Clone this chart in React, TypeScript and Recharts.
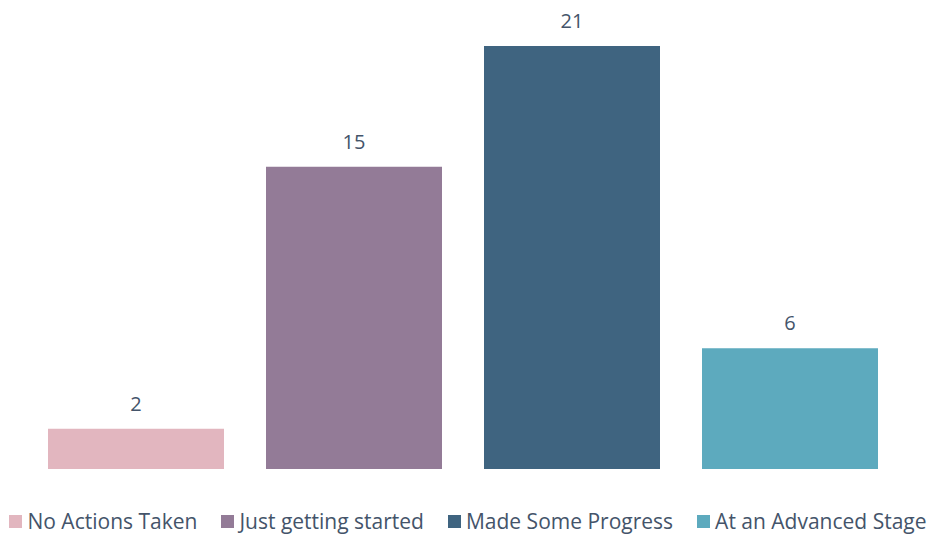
import { BarChart, Bar, XAxis, YAxis, Cell, LabelList, Legend } from "recharts";

const categories = [
  "No Actions Taken",
  "Just getting started",
  "Made Some Progress",
  "At an Advanced Stage",
];
const counts = [2, 15, 21, 6];
const colors = ["#E2B6BF", "#937B97", "#3F6480", "#5DAABE"];

const data = categories.map((name, i) => ({ name, value: counts[i] }));

const textColor = "#44546A";
const font = "'Open Sans', sans-serif";

function LegendRow() {
  return (
    <div
      style={{
        display: "flex",
        justifyContent: "center",
        alignItems: "center",
        height: 28,
        paddingLeft: 8,
        fontFamily: font,
        fontSize: 21,
        color: textColor,
        whiteSpace: "nowrap",
      }}
    >
      {categories.map((c, i) => (
        <div
          key={c}
          style={{ display: "flex", alignItems: "center", marginRight: i < 3 ? 24 : 0 }}
        >
          <span
            style={{
              width: 13,
              height: 13,
              background: colors[i],
              display: "inline-block",
              marginRight: 5,
            }}
          />
          <span>{c}</span>
        </div>
      ))}
    </div>
  );
}

export default function App() {
  return (
    <div style={{ position: "absolute", left: 0, top: 0, background: "#fff" }}>
      <BarChart
        width={928}
        height={534}
        data={data}
        margin={{ top: 46, right: 29, bottom: 37, left: 27 }}
      >
        <XAxis dataKey="name" hide />
        <YAxis hide domain={[0, 21]} />
        <Legend
          verticalAlign="bottom"
          content={() => <LegendRow />}
          wrapperStyle={{ top: 507, bottom: "auto", left: 0, width: 928 }}
        />
        <Bar dataKey="value" barSize={176} isAnimationActive={false}>
          {data.map((d, i) => (
            <Cell key={d.name} fill={colors[i]} />
          ))}
          <LabelList
            dataKey="value"
            position="top"
            offset={18}
            fill={textColor}
            fontFamily={font}
            fontSize={20}
          />
        </Bar>
      </BarChart>
    </div>
  );
}
